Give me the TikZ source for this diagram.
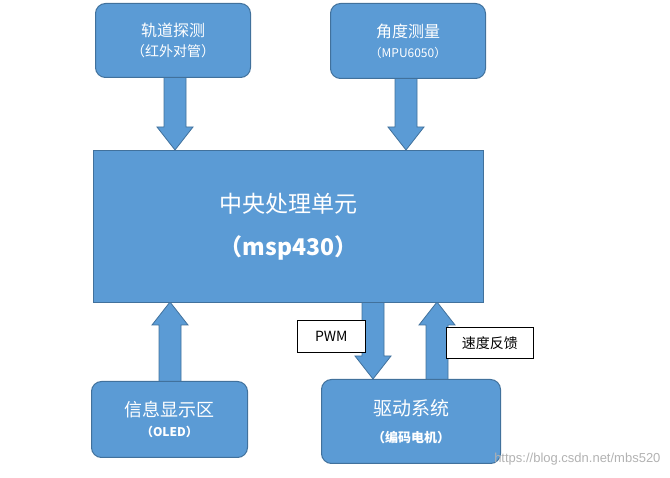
\documentclass[tikz,border=0pt]{standalone}
\usepackage{fontspec}
\setmainfont{Liberation Sans}
\newfontfamily\cjk{Noto Sans CJK SC}
\usetikzlibrary{calc}
\definecolor{bfill}{HTML}{5B9BD5}
\definecolor{bline}{HTML}{41719C}
\newcommand\fs[1]{\fontsize{#1}{#1}\selectfont}
\tikzset{x=1pt,y=-1pt,
 rbox/.style={draw=bline,line width=1pt,fill=bfill,rounded corners=10pt,text=white,align=center,font=\cjk\fs{16}},
 lbl/.style={draw=black,fill=white,line width=0.6pt,font=\cjk\fs{14},inner sep=0pt}}
\newcommand\blockarrow[3]{% x, tail y, tip y
 \pgfmathsetmacro\hy{#3+(#2>#3?23:-23)}
 \fill[bfill,draw=bline,line width=0.8pt] (#1-11,#2) -- (#1-11,\hy) -- (#1-18,\hy) -- (#1,#3) -- (#1+18,\hy) -- (#1+11,\hy) -- (#1+11,#2) -- cycle;}
\begin{document}
\begin{tikzpicture}
\useasboundingbox (0,0) rectangle (670,478);
\blockarrow{175}{77}{150}
\blockarrow{406}{78}{150}
\blockarrow{170}{382}{302}
\blockarrow{373}{302}{379}
\blockarrow{437}{380}{302}
\node[rbox,minimum width=155,minimum height=74,anchor=north west] (a) at (95,3) {轨道探测\\[4pt]\fs{14}（红外对管）};
\node[rbox,minimum width=155,minimum height=75,anchor=north west] (b) at (330,3) {角度测量\\[4pt]\fs{12}（MPU6050）};
\node[rbox,rounded corners=0pt,minimum width=390,minimum height=152,anchor=north west,font=\cjk\fs{23}] (c) at (93,150) {中央处理单元\\[20pt]\bfseries（msp430）};
\node[rbox,minimum width=156,minimum height=76,anchor=north west,font=\cjk\fs{18}] (d) at (91,381) {信息显示区\\[2pt]\bfseries\fs{12}（OLED）};
\node[rbox,minimum width=179,minimum height=84,anchor=north west,font=\cjk\fs{19}] (e) at (321,379) {驱动系统\\[8pt]\bfseries\fs{13}（编码电机）};
\node[lbl,minimum width=68,minimum height=32,anchor=north west] (p) at (297,320) {PWM};
\node[lbl,minimum width=87,minimum height=31,anchor=north west] (s) at (446,327) {速度反馈};
\node[text=gray!60,font=\fs{13},anchor=east] (w) at (664,459) {https://blog.csdn.net/mbs520};
\end{tikzpicture}
\end{document}
